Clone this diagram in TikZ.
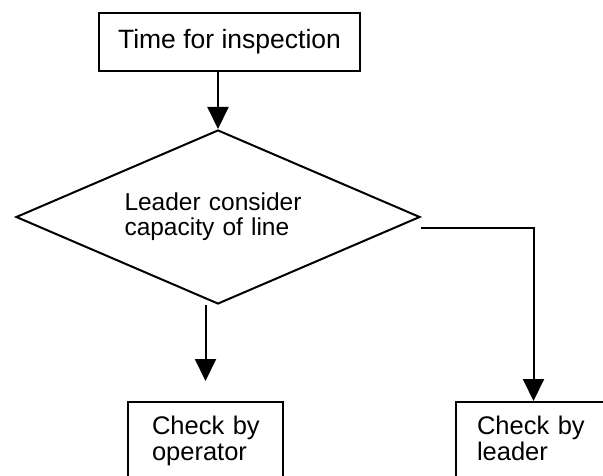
\documentclass[tikz,border=0pt]{standalone}
\usepackage{fontspec}
\setmainfont{Liberation Sans}
\usetikzlibrary{arrows.meta,shapes.geometric}

\begin{document}
\begin{tikzpicture}[->,>={Triangle[length=22pt,width=21pt]},line width=2pt,
    box/.style={draw,rectangle,inner sep=0pt},
    checkbox/.style={box,text width=119pt,align=left,inner xsep=18pt,
      minimum height=80pt,font=\fontsize{25.5}{26}\selectfont},
    decision/.style={draw,diamond,aspect=2.32,inner sep=0pt,minimum width=404pt,
      minimum height=174pt,text width=185pt,align=left,
      font=\fontsize{24.5}{25}\selectfont}]
  \clip (0pt,0pt) rectangle (603pt,-476pt);
  \node[box,minimum width=261pt,minimum height=58pt,
    font=\fontsize{26.5}{28}\selectfont] (insp) at (229.5pt,-42pt) {Time for inspection};
  \node[decision] (cons) at (218pt,-217pt) {\hspace*{-1pt}Leader consider\\\hspace*{-1pt}capacity of line};
  \node[checkbox] (byop) at (205.5pt,-442pt) {\hspace*{6pt}Check by\\\hspace*{6pt}operator\strut};
  \node[checkbox] (bylead) at (533.5pt,-442pt) {\hspace*{3pt}Check by\\\hspace*{3pt}leader\strut};
  \draw (insp.south -| cons.north) -- (cons.north);
  \draw[shorten >=20pt] (cons.south -| byop.north) -- (byop.north);
  \draw ([yshift=-11pt]cons.east) -| (bylead.north);
\end{tikzpicture}
\end{document}
